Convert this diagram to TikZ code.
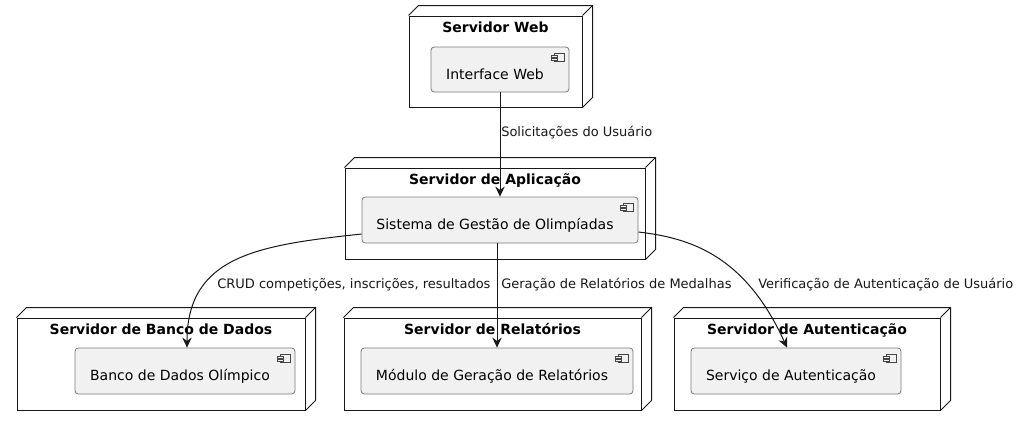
\documentclass[tikz,border=0pt]{standalone}
\usepackage{fontspec}
\setmainfont{DejaVu Sans}
\usetikzlibrary{fit,calc,arrows.meta}
\definecolor{compfill}{HTML}{F1F1F1}
\definecolor{compline}{HTML}{7A7A7A}
\definecolor{ink}{HTML}{181818}
\newcommand\compicon[1]{%
  \draw[ink!80, line width=0.4pt, fill=compfill] ($(#1.north east)+(-15,7)$) rectangle ($(#1.north east)+(-5,15)$);
  \draw[ink!80, line width=0.4pt, fill=compfill] ($(#1.north east)+(-18,9)$) rectangle ($(#1.north east)+(-12,11)$);
  \draw[ink!80, line width=0.4pt, fill=compfill] ($(#1.north east)+(-18,12)$) rectangle ($(#1.north east)+(-12,14)$);
}
\begin{document}
\begin{tikzpicture}[x=0.75pt,y=-0.75pt,
  srvbox/.style={draw=ink, line width=0.75pt, fill=white, inner sep=0pt},
  srvline/.style={draw=ink, line width=0.75pt, line join=miter},
  srvtitle/.style={anchor=base, font=\fontsize{10.5pt}{12pt}\selectfont\bfseries, inner sep=0pt},
  compbox/.style={draw=compline, line width=0.6pt, fill=compfill, rounded corners=2.5pt, inner sep=0pt},
  comptext/.style={anchor=base, font=\fontsize{10.5pt}{12pt}\selectfont, inner sep=0pt},
  conn/.style={draw=ink, line width=0.75pt, -{Stealth[length=7.5pt,width=7pt,inset=2.5pt]}},
  connlabel/.style={anchor=base west, font=\fontsize{9.75pt}{11pt}\selectfont, inner sep=0pt, text=ink},
  ]
\useasboundingbox[fill=white] (0,0) rectangle (1020,426);

% server nodes (front faces)
\node[srvbox, fit={(409,16) (582,107)}] (web) {};
\node[srvbox, fit={(345,168) (645,259)}] (app) {};
\node[srvbox, fit={(17,318) (305,410)}] (db) {};
\node[srvbox, fit={(344,318) (641,410)}] (rel) {};
\node[srvbox, fit={(674,318) (940,410)}] (aut) {};

\foreach \n in {web,app,db,rel,aut} {
  \draw[srvline] (\n.north west) -- ++(10,-10) -- ($(\n.north east)+(10,-10)$) -- ($(\n.south east)+(10,-10)$) -- (\n.south east);
  \draw[srvline] (\n.north east) -- ++(10,-10);
}

% titles
\node[srvtitle] (webt) at ($(web.north)+(0,17)$) {Servidor Web};
\node[srvtitle] (appt) at ($(app.north)+(0,17)$) {Servidor de Aplicação};
\node[srvtitle] (dbt)  at ($(db.north)+(0,17)$)  {Servidor de Banco de Dados};
\node[srvtitle] (relt) at ($(rel.north)+(0,17)$) {Servidor de Relatórios};
\node[srvtitle] (autt) at ($(aut.north)+(0,17)$) {Servidor de Autenticação};

% components
\node[compbox, fit={(431,47) (569,92)}] (iw) {};
\node[compbox, fit={(362,197) (638,243)}] (sys) {};
\node[compbox, fit={(75,348) (295,394)}] (bdo) {};
\node[compbox, fit={(361,348) (633,394)}] (mod) {};
\node[compbox, fit={(691,348) (901,394)}] (svc) {};

\foreach \c in {iw,sys,bdo,mod,svc} { \compicon{\c} }

\node[comptext] (iwt)  at ($(iw.north)+(-5,33)$)  {Interface Web};
\node[comptext] (syst) at ($(sys.north)+(-5,33)$) {Sistema de Gestão de Olimpíadas};
\node[comptext] (bdot) at ($(bdo.north)+(-5,33)$) {Banco de Dados Olímpico};
\node[comptext] (modt) at ($(mod.north)+(-5,33)$) {Módulo de Geração de Relatórios};
\node[comptext] (svct) at ($(svc.north)+(-5,33)$) {Serviço de Autenticação};

% connectors
\draw[conn] (iw.south) -- (iw.south |- sys.north);
\draw[conn] ($(sys.west)+(0,14)$) .. controls (260,245) and (187,255) .. ($(bdo.north)+(2,0)$);
\draw[conn] (mod.north |- sys.south) -- (mod.north);
\draw[conn] ($(sys.east)+(0,12)$) .. controls (690,238) and (745,255) .. ($(svc.north)+(-9,0)$);

% labels
\node[connlabel] (l1) at (501,136) {Solicitações do Usuário};
\node[connlabel] (l2) at (217,288) {CRUD competições, inscrições, resultados};
\node[connlabel] (l3) at (501,288) {Geração de Relatórios de Medalhas};
\node[connlabel] (l4) at (758,288) {Verificação de Autenticação de Usuário};
\end{tikzpicture}
\end{document}
